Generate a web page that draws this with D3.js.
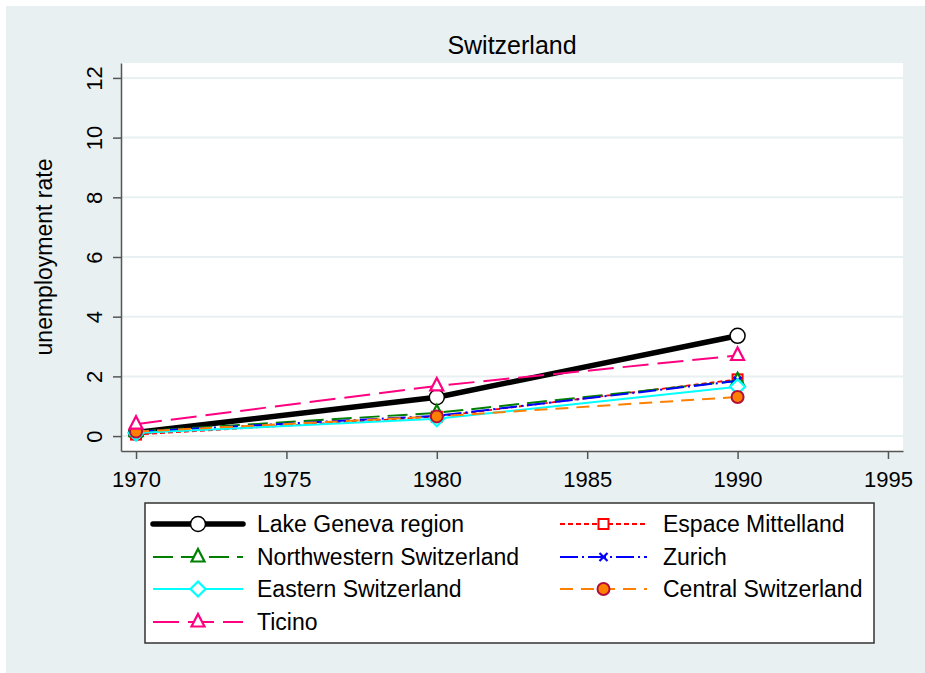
<!DOCTYPE html>
<html><head><meta charset="utf-8">
<script src="https://cdn.jsdelivr.net/npm/d3@7"></script>
<style>body{margin:0;background:#fff}svg{display:block;font-family:"Liberation Sans",Arial,sans-serif}</style>
</head><body><svg id="c" width="925" height="673"></svg>
<script>
const years = [1970, 1980, 1990];
const seriesNames = ["Lake Geneva region","Espace Mittelland","Northwestern Switzerland","Zurich","Eastern Switzerland","Central Switzerland","Ticino"];
const lakeGeneva = [0.12, 1.3, 3.36];
const espaceMittelland = [0.05, 0.65, 1.9];
const northwestern = [0.15, 0.78, 1.85];
const zurich = [0.15, 0.68, 1.85];
const eastern = [0.1, 0.58, 1.65];
const central = [0.15, 0.66, 1.31];
const ticino = [0.4, 1.68, 2.7];
const yTicks = [0,2,4,6,8,10,12];
const xTicks = [1970,1975,1980,1985,1990,1995];

const values = [lakeGeneva, espaceMittelland, northwestern, zurich, eastern, central, ticino];
const styles = [
 {color:"#000000", w:5.5, dash:null, marker:"circle", fill:"#fff", stroke:"#000"},
 {color:"#ff0000", w:1.8, dash:"5,3", marker:"square", fill:"#fff", stroke:"#ff0000"},
 {color:"#008000", w:2, dash:"20,8", marker:"triangle", fill:"#fff", stroke:"#008000"},
 {color:"#0000ff", w:2, dash:"18,4,2,4", marker:"x", fill:"none", stroke:"#0000ff"},
 {color:"#00ffff", w:2, dash:null, marker:"diamond", fill:"#fff", stroke:"#00ffff"},
 {color:"#ff8000", w:2, dash:"13,8", marker:"dot", fill:"#ff8000", stroke:"#b0103a"},
 {color:"#ff0080", w:2, dash:"26,9", marker:"triangle", fill:"#fff", stroke:"#ff0080"}
];

const svg = d3.select("#c");
const W = 925, H = 673;
svg.append("rect").attr("x",0).attr("y",0).attr("width",W).attr("height",H).attr("fill","#fff");
svg.append("rect").attr("x",6).attr("y",6).attr("width",W-6).attr("height",H-6).attr("fill","#e9f0f2");

const L=121, R=903, T=63, B=451;
const x = d3.scaleLinear().domain([1969.5,1995.5]).range([L,R]);
const y = d3.scaleLinear().domain([-0.5,12.5]).range([B,T]);

svg.append("rect").attr("x",L).attr("y",T).attr("width",R-L).attr("height",B-T).attr("fill","#fff");

// gridlines
svg.append("g").selectAll("line").data(yTicks).join("line")
  .attr("x1",L).attr("x2",R).attr("y1",d=>y(d)).attr("y2",d=>y(d))
  .attr("stroke","#e9f0f2").attr("stroke-width",2);

const fs = 22;
// axes
const ya = svg.append("g").attr("transform",`translate(${L},0)`)
  .call(d3.axisLeft(y).tickValues(yTicks).tickSize(8).tickSizeOuter(0).tickPadding(0));
ya.select(".domain").attr("stroke","#555").attr("stroke-width",1.5);
ya.selectAll(".tick line").attr("stroke","#555").attr("stroke-width",1.5);
ya.selectAll(".tick text").attr("font-size",fs).attr("fill","#000")
  .attr("x",0).attr("dy",null).attr("text-anchor","middle")
  .attr("transform","translate(-19,0) rotate(-90)").attr("dominant-baseline","auto").attr("y",0);

const xa = svg.append("g").attr("transform",`translate(0,${B})`)
  .call(d3.axisBottom(x).tickValues(xTicks).tickFormat(d3.format("d")).tickSize(8).tickSizeOuter(0));
xa.select(".domain").attr("stroke","#555").attr("stroke-width",1.5);
xa.selectAll(".tick line").attr("stroke","#555").attr("stroke-width",1.5);
xa.selectAll(".tick text").attr("font-size",fs).attr("fill","#000").attr("y",36).attr("dy",null);

svg.append("text").attr("x",(L+R)/2).attr("y",54).attr("text-anchor","middle")
  .attr("font-size",25).text("Switzerland");
svg.append("text").attr("transform",`translate(52,${(T+B)/2}) rotate(-90)`).attr("text-anchor","middle")
  .attr("font-size",23).text("unemployment rate");

function drawMarker(g, s, cx, cy){
  if(s.marker==="circle"){
    g.append("circle").attr("cx",cx).attr("cy",cy).attr("r",7.5).attr("fill",s.fill).attr("stroke",s.stroke).attr("stroke-width",1.5);
  } else if(s.marker==="dot"){
    g.append("circle").attr("cx",cx).attr("cy",cy).attr("r",6).attr("fill",s.fill).attr("stroke",s.stroke).attr("stroke-width",2);
  } else if(s.marker==="square"){
    g.append("rect").attr("x",cx-5).attr("y",cy-5).attr("width",10).attr("height",10).attr("fill",s.fill).attr("stroke",s.stroke).attr("stroke-width",2);
  } else if(s.marker==="triangle"){
    g.append("path").attr("d",`M${cx},${cy-8}L${cx+6.5},${cy+4.5}L${cx-6.5},${cy+4.5}Z`).attr("fill",s.fill).attr("stroke",s.stroke).attr("stroke-width",2.2);
  } else if(s.marker==="diamond"){
    g.append("path").attr("d",`M${cx},${cy-7.5}L${cx+7.5},${cy}L${cx},${cy+7.5}L${cx-7.5},${cy}Z`).attr("fill",s.fill).attr("stroke",s.stroke).attr("stroke-width",2.2);
  } else if(s.marker==="x"){
    g.append("path").attr("d",`M${cx-4},${cy-4}L${cx+4},${cy+4}M${cx-4},${cy+4}L${cx+4},${cy-4}`).attr("stroke",s.stroke).attr("stroke-width",2.2);
  }
}

const line = d3.line().x((d,i)=>x(years[i])).y(d=>y(d));
const plot = svg.append("g");
values.forEach((v,k)=>{
  const s = styles[k];
  const g = plot.append("g");
  g.append("path").attr("d",line(v)).attr("fill","none").attr("stroke",s.color)
    .attr("stroke-width",s.w).attr("stroke-dasharray",s.dash).attr("stroke-linejoin","round");
  v.forEach((d,i)=>drawMarker(g,s,x(years[i]),y(d)));
});

// legend
const lg = svg.append("g");
lg.append("rect").attr("x",145).attr("y",503).attr("width",729).attr("height",140)
  .attr("fill","#fff").attr("stroke","#333").attr("stroke-width",1.5);
const rowsY = [524,557,589,622];
const cols = [{x1:153,x2:243,tx:257},{x1:560,x2:647,tx:663}];
seriesNames.forEach((n,k)=>{
  const r = Math.floor(k/2), c = k%2;
  const s = styles[k], cy = rowsY[r], col = cols[c];
  const g = lg.append("g");
  g.append("line").attr("x1",col.x1).attr("x2",col.x2).attr("y1",cy).attr("y2",cy)
    .attr("stroke",s.color).attr("stroke-width",s.w).attr("stroke-dasharray",s.dash)
    .attr("stroke-linecap",k===0?"round":"butt");
  drawMarker(g,s,(col.x1+col.x2)/2,cy);
  g.append("text").attr("x",col.tx).attr("y",cy+8).attr("font-size",23).text(n);
});
</script></body></html>
